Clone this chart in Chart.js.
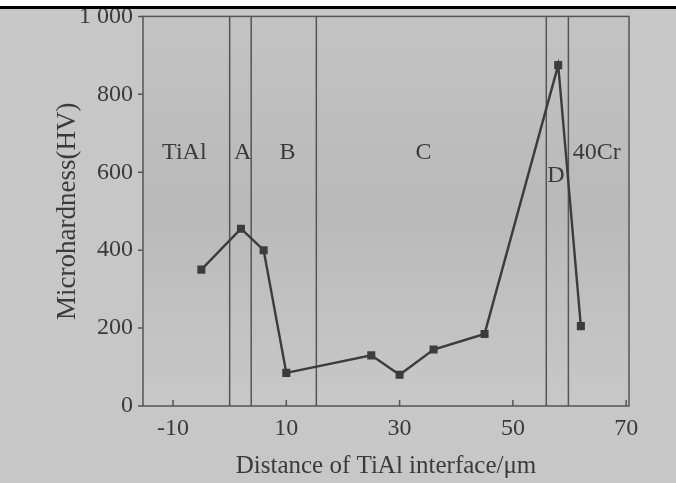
<!DOCTYPE html>
<html><head><meta charset="utf-8">
<script src="https://cdn.jsdelivr.net/npm/chart.js@4/dist/chart.umd.min.js"></script>
<style>
html,body{margin:0;padding:0;background:#fff;}
#wrap{position:relative;width:676px;height:483px;background:#c7c7c7;overflow:hidden}
#topwhite{position:absolute;left:0;top:0;width:676px;height:6px;background:#fff}
#topline{position:absolute;left:0;top:6px;width:676px;height:3px;background:#000}
canvas{position:absolute;left:0;top:0}
</style></head><body>
<div id="wrap"><canvas id="c" width="676" height="483"></canvas><div id="topwhite"></div><div id="topline"></div></div>
<script>
const distances = [-5, 2, 6, 10, 25, 30, 36, 45, 58, 62];
const hardness  = [350, 455, 400, 85, 130, 80, 145, 185, 875, 205];
const boundaries = [0, 3.8, 15.3, 55.9, 59.8];
const zoneNames = ['TiAl', 'A', 'B', 'C', 'D', '40Cr'];
const zoneX = [-8, 2.3, 10.2, 34.2, 57.6, 64.8];
const zoneY = [650, 650, 650, 650, 590, 650];
const xTicks = [-10, 10, 30, 50, 70];
const yTicks = [0, 200, 400, 600, 800, 1000];

const FONT = 'Liberation Serif';
const INK = '#3a3a3a';

const boundarySets = boundaries.map(b => ({
  type: 'line',
  data: [{x: b, y: 0}, {x: b, y: 1000}],
  borderColor: '#555',
  borderWidth: 1.5,
  pointRadius: 0,
  order: 2
}));

const decor = {
  id: 'decor',
  beforeDatasetsDraw(chart) {
    const {ctx, chartArea: a} = chart;
    ctx.save();
    const g = ctx.createLinearGradient(0, a.top, 0, a.bottom);
    g.addColorStop(0, '#c3c3c3');
    g.addColorStop(0.5, '#b9b9b9');
    g.addColorStop(0.75, '#c1c1c1');
    g.addColorStop(1, '#c8c8c8');
    ctx.fillStyle = g;
    ctx.fillRect(a.left, a.top, a.right - a.left, a.bottom - a.top);
    ctx.restore();
  },
  afterDraw(chart) {
    const {ctx, chartArea: a, scales: {x, y}} = chart;
    ctx.save();
    ctx.strokeStyle = '#555';
    ctx.lineWidth = 1.5;
    ctx.strokeRect(a.left, a.top, a.right - a.left, a.bottom - a.top);
    ctx.beginPath();
    xTicks.forEach(v => { const px = x.getPixelForValue(v); ctx.moveTo(px, a.bottom); ctx.lineTo(px, a.bottom - 6); });
    yTicks.forEach(v => { const py = y.getPixelForValue(v); ctx.moveTo(a.left, py); ctx.lineTo(a.left - 5, py); });
    ctx.stroke();
    ctx.fillStyle = INK;
    ctx.font = '24px "' + FONT + '"';
    ctx.textAlign = 'center';
    ctx.textBaseline = 'middle';
    zoneNames.forEach((n, i) => ctx.fillText(n, x.getPixelForValue(zoneX[i]), y.getPixelForValue(zoneY[i])));
    ctx.restore();
  }
};

new Chart(document.getElementById('c'), {
  type: 'line',
  data: {
    datasets: [{
      data: distances.map((d, i) => ({x: d, y: hardness[i]})),
      borderColor: '#3c3c3c',
      backgroundColor: '#3c3c3c',
      borderWidth: 2.4,
      pointStyle: 'rect',
      pointRadius: 4,
      tension: 0,
      order: 1
    }, ...boundarySets]
  },
  options: {
    responsive: false,
    animation: false,
    plugins: {legend: {display: false}, tooltip: {enabled: false}},
    layout: {padding: {left: 0, top: 14, right: 47, bottom: 0}},
    scales: {
      x: {
        type: 'linear', min: -15.3, max: 70.5,
        afterBuildTicks: s => { s.ticks = xTicks.map(v => ({value: v})); },
        afterFit: s => { s.height = 77; },
        grid: {display: false},
        border: {display: false},
        ticks: {font: {family: FONT, size: 24}, color: INK, padding: 0, maxRotation: 0, autoSkip: false},
        title: {display: true, text: 'Distance of TiAl interface/μm', font: {family: FONT, size: 25}, color: INK, padding: {top: 0, bottom: 2}}
      },
      y: {
        min: 0, max: 1000,
        afterBuildTicks: s => { s.ticks = yTicks.map(v => ({value: v})); },
        afterFit: s => { s.width = 143; },
        grid: {display: false},
        border: {display: false},
        ticks: {font: {family: FONT, size: 24}, color: INK, padding: 2,
          callback: v => v === 1000 ? '1 000' : String(v)},
        title: {display: true, text: 'Microhardness(HV)', font: {family: FONT, size: 27}, color: INK, padding: {top: 52, bottom: 0}}
      }
    }
  },
  plugins: [decor]
});
</script>
</body></html>
